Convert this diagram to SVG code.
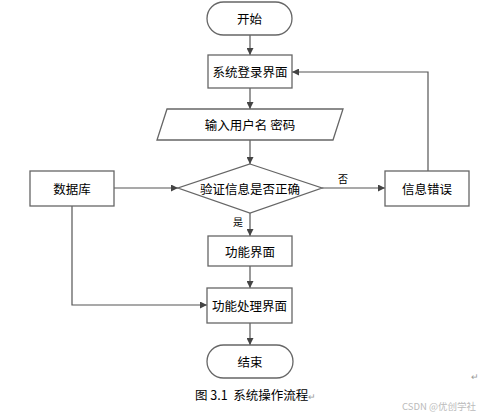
<svg xmlns="http://www.w3.org/2000/svg" width="480" height="417" viewBox="0 0 480 417">
<style>
.s{fill:#fff;stroke:#666;stroke-width:1.3}
.t{font-family:"Noto Sans CJK SC","Noto Sans",sans-serif;font-size:12.5px;fill:#000;text-anchor:middle;dominant-baseline:central}
.l{font-family:"Noto Sans CJK SC",sans-serif;font-size:10px;fill:#000;text-anchor:middle;dominant-baseline:central}
.c{fill:none;stroke:#555;stroke-width:1.2}
</style>
<defs>
<marker id="a" viewBox="0 0 10 10" refX="10" refY="5" markerWidth="7" markerHeight="7" markerUnits="userSpaceOnUse" orient="auto">
<path d="M0,0L10,5L0,10z" fill="#444"/>
</marker>
</defs>
<rect width="480" height="417" fill="#fff"/>
<g id="connectors">
<path class="c" d="M250,35V55" marker-end="url(#a)"/>
<path class="c" d="M250,88V109" marker-end="url(#a)"/>
<path class="c" d="M250,140V164" marker-end="url(#a)"/>
<path class="c" d="M114,188H178" marker-end="url(#a)"/>
<path class="c" d="M322,188H385" marker-end="url(#a)"/>
<path class="c" d="M428,171V72H292" marker-end="url(#a)"/>
<path class="c" d="M250,213V236" marker-end="url(#a)"/>
<path class="c" d="M250,266V288" marker-end="url(#a)"/>
<path class="c" d="M72,206V305H207" marker-end="url(#a)"/>
<path class="c" d="M250,323V345" marker-end="url(#a)"/>
<text class="l" x="343" y="178">否</text>
<text class="l" x="238" y="221">是</text>
</g>
<g id="start">
<rect class="s" x="207" y="2" width="85" height="33" rx="16.5"/>
<text class="t" x="249.5" y="18.5">开始</text>
</g>
<g id="login">
<rect class="s" x="208" y="55" width="84" height="33"/>
<text class="t" x="250" y="71.5">系统登录界面</text>
</g>
<g id="input">
<path class="s" d="M167,109H343L333,140H157z"/>
<text class="t" x="250" y="124.5">输入用户名 密码</text>
</g>
<g id="verify">
<path class="s" d="M250,164L322,188L250,213L178,188z"/>
<text class="t" x="250" y="188">验证信息是否正确</text>
</g>
<g id="database">
<rect class="s" x="30" y="171" width="84" height="35"/>
<text class="t" x="72" y="188.5">数据库</text>
</g>
<g id="error">
<rect class="s" x="385" y="171" width="84" height="35"/>
<text class="t" x="427" y="188.5">信息错误</text>
</g>
<g id="func">
<rect class="s" x="208" y="236" width="84" height="30"/>
<text class="t" x="250" y="251">功能界面</text>
</g>
<g id="process">
<rect class="s" x="207" y="288" width="85" height="35"/>
<text class="t" x="249.5" y="305.5">功能处理界面</text>
</g>
<g id="end">
<rect class="s" x="207" y="345" width="86" height="33" rx="16.5"/>
<text class="t" x="250" y="361.5">结束</text>
</g>
<text x="195" y="400" xml:space="preserve" font-family="'Noto Sans CJK SC',sans-serif" font-size="12.5" fill="#000">图 3.1  系统操作流程<tspan fill="#999" font-size="9">↵</tspan></text>
<text x="471" y="380" font-family="'Noto Sans CJK SC',sans-serif" font-size="9" fill="#999">↵</text>
<text x="476" y="410" text-anchor="end" font-family="'Noto Sans CJK SC',sans-serif" font-size="9.5" fill="#bbb">CSDN @优创学社</text>
</svg>
